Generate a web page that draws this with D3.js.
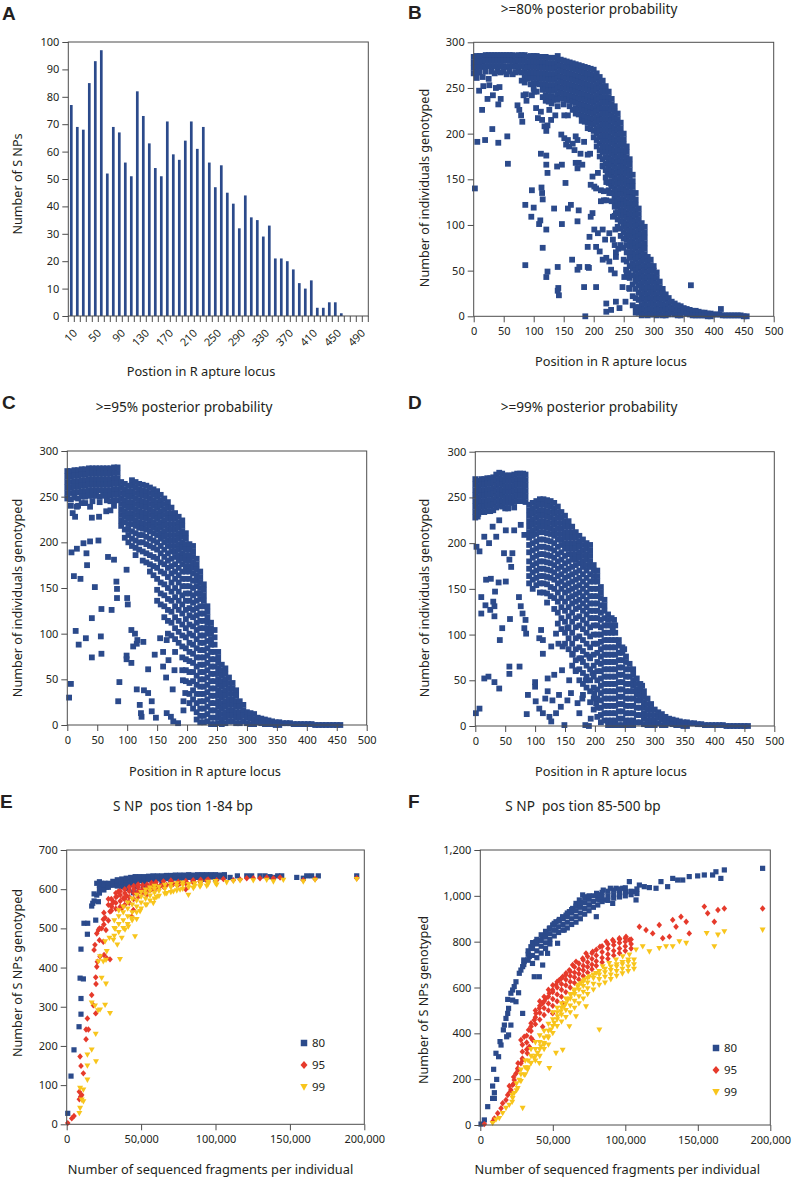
<!DOCTYPE html>
<html><head><meta charset="utf-8">
<script src="https://cdn.jsdelivr.net/npm/d3@7"></script>
<style>
body{margin:0;background:#fff;}
svg text{font-family:"Noto Sans","Open Sans",sans-serif;fill:#231f20;white-space:pre;}
</style></head><body>
<svg id="fig" width="792" height="1179"></svg>
<script>
// ---------------- DATA ----------------
// Panel A: histogram of SNP positions
const aCategories = [10,20,30,40,50,60,70,80,90,100,110,120,130,140,150,160,170,180,190,200,210,220,230,240,250,260,270,280,290,300,310,320,330,340,350,360,370,380,390,400,410,420,430,440,450,460,470,480,490,500];
const aCounts = [77,69,68,85,93,97,52,69,67,56,51,82,73,63,54,51,71,59,57,64,71,61,69,56,47,55,45,41,32,44,36,35,29,33,21,21,20,17,12,10,13,3,3,5,5,1,0,0,0,0];
const aTickLabels = [10,50,90,130,170,210,250,290,330,370,410,450,490];
const aYTicks = [0,10,20,30,40,50,60,70,80,90,100];

// Panels B-D: position (x) vs number of individuals genotyped (y); columns "x:y,y,..|"
const posTicks = [0,50,100,150,200,250,300,350,400,450,500];
const indTicks = [0,50,100,150,200,250,300];

const bColumns = "0:284,278,272,266|5:285,279,273,267,261|10:285,279,273,267|15:285,279,273,262|20:286,280,274,268|25:286,280,274,260|30:286,280,274,268|35:286,280,274,266|40:286,280,274,268|45:286,280,274,267|50:286,280,274,268|55:286,280,273,265|60:286,280,274,268|65:286,280,274,265|70:285,279,273,267|75:286,280,274,268|80:286,280,274,267,258|85:286,280,274,268,262,256|90:284,278,272,266,260|95:285,279,273,267,261,254|100:285,279,273,267,261,255,249|105:285,279,273,267,261,255,246|110:284,278,272,266,260,254|115:284,278,272,266,260,254,248,240|120:284,278,272,266,260,254,248,242,236|125:283,277,271,265,259,253,247,241,235|130:283,277,271,265,259,253,247,241,233|135:283,277,271,265,259,253,247,240|140:285,279,273,267,261,255,249,243,237|145:281,275,269,263,257,251,245,239|150:280,274,268,262,256,250,244,238,232|155:279,273,267,261,255,249,243,237|160:278,272,266,260,254,248,242,236,230|165:277,271,265,259,253,247,241,235,226|170:276,270,264,258,252,246,240,234,228,222|175:275,269,263,257,251,245,239,233,227,221|180:274,268,262,256,250,244,238,232,226,220,214|185:273,267,261,255,249,243,237,231,225,219,213|190:272,266,260,254,248,242,236,230,224,218,212,206|195:271,265,259,253,247,241,235,229,223,217,211,205|200:270,264,258,252,246,240,234,228,222,216,210,203,196|205:266,260,254,248,242,236,230,224,218,212,206,200,193,186|210:262,256,250,244,238,232,226,220,214,208,202,196,189,182,175|215:258,252,246,240,234,228,222,216,210,204,198,192,186,180,172,165|220:252,246,240,234,228,222,216,210,204,198,192,186,180,174,167,160,152|225:246,240,234,228,222,216,210,204,198,192,186,180,174,168,162,155,146,138|230:238,232,226,220,214,208,202,196,190,184,178,172,166,160,154,148,142,135,126|235:230,224,218,212,206,200,194,188,182,176,170,164,158,152,146,140,134,128,120,110|240:222,216,210,204,198,192,186,180,174,168,162,156,150,144,138,132,126,120,114,106,98|245:212,206,200,194,188,182,176,170,164,158,152,146,140,134,128,122,116,110,104,96,88,78|250:200,194,188,182,176,170,164,158,152,146,140,134,128,122,116,110,104,98,92,85,75,62|255:186,180,174,168,162,156,150,144,138,132,126,120,114,108,102,96,90,84,78,70,60,48|260:172,166,160,154,148,142,136,130,124,118,112,106,100,94,88,82,76,70,64,55,42,30|265:155,148,142,136,130,124,118,112,106,100,94,88,82,76,70,64,58,52,45,35,22,12|270:135,128,122,116,110,104,98,92,86,80,74,68,62,56,50,44,38,30,20,10,4|275:118,112,106,100,94,88,82,76,70,64,58,52,46,40,34,26,18,10,4|280:102,96,90,84,78,72,66,60,54,48,42,36,30,24,18,12,6,1|285:98,92,86,80,74,68,62,56,50,44,38,32,26,20,14,8,2|290:65,60,54,48,42,36,30,24,18,12,6,1|295:62,56,50,44,38,32,26,20,14,8,2|300:55,50,44,38,32,26,20,14,8,2|305:48,42,36,30,24,18,12,6,1|310:38,32,26,20,14,8,2|315:30,25,19,13,7,1|320:24,18,12,6,1|325:20,14,8,2|330:16,10,4|335:14,8,2|340:12,6,1|345:11,5,1|350:9,4|355:8,3|360:7,2|365:6,1|370:6,1|375:5,1|380:4,1|385:4,1|390:3,0|395:3,0|400:2|405:2|410:2|415:1|420:1|425:1|430:1|435:1|440:1|445:1|450:0|455:0";
const bScatter = [[2,140],[6,191],[19,193],[14,226],[23,238],[32,242],[31,205],[41,190],[45,238],[41,232],[56,197],[57,167],[9,247],[16,252],[26,253],[37,250],[43,251],[73,231],[76,226],[81,213],[79,220],[83,242],[87,243],[88,236],[97,242],[101,246],[104,228],[107,217],[112,224],[114,215],[118,208],[121,203],[123,209],[129,215],[136,220],[140,230],[126,226],[132,237],[151,220],[157,220],[97,138],[100,119],[86,122],[96,109],[111,105],[109,101],[112,178],[113,141],[114,135],[115,128],[121,176],[121,166],[123,157],[121,95],[115,75],[123,49],[121,43],[86,56],[139,164],[147,166],[134,118],[147,101],[153,146],[157,118],[162,122],[175,116],[173,104],[164,62],[140,54],[141,31],[142,23],[140,28],[173,51],[176,54],[190,54],[192,53],[184,32],[186,0],[204,32],[146,199],[151,195],[157,193],[159,186],[165,189],[170,197],[173,193],[168,182],[154,188],[170,168],[175,168],[173,162],[181,166],[178,178],[184,191],[194,178],[190,177],[198,153],[195,144],[201,142],[198,113],[195,109],[201,95],[193,87],[190,76],[204,76],[207,91],[215,95],[210,71],[219,84],[217,127],[212,126],[221,127],[204,140],[212,138],[217,137],[207,157],[215,164],[226,168],[223,157],[221,147],[229,145],[226,135],[235,131],[237,124],[237,113],[232,109],[226,91],[232,84],[236,95],[235,78],[237,70],[241,74],[237,65],[221,64],[226,60],[215,62],[229,51],[235,47],[251,43],[254,51],[258,47],[259,31],[248,32],[221,14],[221,5],[237,16],[229,7],[243,9],[253,16],[362,34],[412,8]];

const cColumns = "0:278,272,266,260,254,248|6:278,272,266,260,254,247,240|12:279,273,267,261,255,249|18:279,273,267,261,255,248,240|24:280,274,268,262,256,250|30:280,274,268,262,256,250,243|36:281,275,269,263,257,251|42:281,275,269,263,257,251,245|48:281,275,269,263,257,251|54:281,275,269,263,257,250,244|60:281,275,269,263,257,251|66:281,275,269,263,257,251,246|72:281,275,269,263,257,251,245|78:282,276,270,264,258,252,246,240|84:282,276,270,264,258,252,246|90:266,260,254,248,242,236,230,224,218|96:264,258,252,246,240,234,228,222,214,205|102:262,256,250,244,238,232,226,220,214,208,200|108:268,262,256,250,244,238,232,226,220,212,204,196|114:266,260,254,248,242,236,230,224,218,210,202,194,186|120:264,258,252,246,240,234,228,222,216,208,200,192|126:263,257,251,245,239,233,227,221,215,208,200,190,180|132:262,256,250,244,238,232,226,220,214,206,198,188,178|138:260,254,248,242,236,230,224,218,212,204,196,186,176,168|144:258,252,246,240,234,228,222,216,210,202,194,184,174,164|150:256,250,244,238,232,226,220,214,208,200,192,182,172,160,148,136|156:252,246,240,234,228,222,216,210,204,196,188,178,168,156,144,132|162:248,242,236,230,224,218,212,206,200,192,184,176,166,154,142,130,118|168:244,238,232,226,220,214,208,202,196,188,180,172,162,150,138,126,114,100|174:238,232,226,220,214,208,202,196,190,182,174,166,156,146,136,124,112,98|180:232,226,220,214,208,202,196,190,184,176,168,160,150,140,130,118,106,94,80|186:228,222,216,210,204,198,192,186,180,172,164,156,146,136,126,114,102,90|192:224,218,212,206,200,194,188,182,176,168,160,152,142,132,122,110,98,86,74,60|198:210,204,198,192,186,180,174,168,160,152,144,136,126,116,106,96,84,72,60,48|204:198,192,186,180,174,168,160,152,144,136,128,120,110,100,90,80,70,58,46,34,24|210:196,190,184,178,172,166,158,150,142,134,126,118,108,98,88,78,68,58,48,38,28,18|216:182,176,170,164,158,152,144,136,128,120,112,104,94,84,74,64,54,44,34,24,14,6|222:168,162,156,150,144,138,130,122,114,106,98,90,82,74,66,58,50,42,34,26,18,10,3|228:154,148,142,136,130,122,114,106,98,90,82,74,66,58,50,42,34,26,18,10,3|234:130,124,118,112,106,100,92,84,76,68,60,52,44,36,28,20,12,4|240:112,106,100,94,88,80,72,64,56,48,40,32,24,16,8,1|246:104,96,88,80,72,64,56,48,40,32,24,16,8,1|252:80,74,68,62,56,50,44,38,32,26,20,14,8,2|258:66,60,54,48,42,36,30,24,18,12,6,1|264:62,56,50,44,38,32,26,20,14,8,2|270:52,46,40,34,28,22,16,10,4|276:46,40,34,28,22,16,10,4|282:38,32,26,20,14,8,2|288:26,20,14,8,2|294:22,16,10,4|300:14,8,2|306:13,7,1|312:12,6,1|318:8,3|324:7,2|330:6,1|336:5,1|342:4,1|348:3,0|354:3,0|360:2|366:2|372:2|378:1|384:1|390:1|396:1|402:1|408:1|414:0|420:0|426:0|432:0|438:0|444:0|450:0|456:0";
const cScatter = [[3,30],[6,45],[13,228],[9,232],[7,189],[16,193],[11,163],[22,160],[19,88],[14,103],[27,199],[32,188],[33,175],[41,117],[41,74],[31,95],[46,151],[38,201],[52,202],[57,127],[56,97],[57,78],[74,126],[68,184],[78,181],[82,157],[83,149],[83,139],[87,47],[85,26],[99,170],[100,139],[101,132],[99,76],[99,72],[107,68],[107,104],[113,100],[110,86],[116,89],[117,93],[116,39],[121,22],[123,13],[124,9],[128,38],[135,35],[141,26],[141,15],[148,8],[146,77],[135,61],[127,91],[165,52],[166,13],[173,9],[177,4],[160,64],[169,71],[160,80],[166,93],[155,95],[176,39],[179,60],[185,2],[194,16],[194,26],[197,35],[193,49],[65,234],[72,235],[53,228],[41,227],[38,239],[24,243],[16,239]];

const dColumns = "0:270,264,258,252,246,240,234,228|5:268,262,256,250,244,238,232|10:270,264,258,252,246,240,234|15:270,264,258,252,246,240,234|20:271,265,259,253,247,241,235|25:271,265,259,253,247,241,235|30:272,266,260,254,248,242,236|35:275,269,263,257,251,245,239|40:277,271,265,259,253,247,241|45:276,270,264,258,252,246,240|50:274,268,262,256,250,244,238|55:274,268,262,256,250,244,238|60:274,268,262,256,250,244|65:275,269,263,257,251,245,239|70:276,270,264,258,252,246|75:276,270,264,258,252,246|80:276,270,264,258,252,246|84:275,269,263,257,251,245|90:242,236,230,224,218,212,206,198,190,180,172,164,156|96:244,238,232,226,220,214,208,200,192,184,176,168,160,150|102:246,240,234,228,222,216,210,202,194,186,178,170,162,154|108:248,242,236,230,224,218,212,204,196,188,180,172,164,156,146|114:248,242,236,230,224,218,212,204,196,188,180,172,164,156,146|120:247,241,235,229,223,217,211,203,195,187,179,171,163,155,145,135|126:246,240,234,228,222,216,210,202,194,186,178,170,162,152,142|132:244,238,232,226,220,214,208,200,192,184,176,168,160,150,140,128|138:240,234,228,222,216,210,204,196,188,180,172,164,156,146,136,124,112|144:234,228,222,216,210,204,198,190,182,174,166,158,150,140,130,118,106|150:230,224,218,212,206,200,194,186,178,170,162,154,146,136,126,114,102,90|156:224,218,212,206,200,194,188,180,172,164,156,148,140,130,120,108,96,84|162:218,212,206,200,194,188,182,174,166,158,150,142,134,124,114,102,90,78,66|168:212,206,200,194,188,182,176,168,160,152,144,136,128,118,108,96,84,72,60|174:208,202,196,190,184,178,170,162,154,146,138,130,120,110,98,86,74,62,50|180:204,198,192,186,180,174,166,158,150,142,134,126,116,106,94,82,70,58,46,34|186:200,194,188,182,176,170,162,154,146,138,130,122,112,102,90,78,66,54,42|192:198,192,186,180,174,166,158,150,142,134,126,118,108,98,86,74,62,50,38,26|198:176,170,164,158,150,142,134,126,118,110,100,90,78,66,54,42,30,18|204:170,164,158,150,142,134,126,118,110,100,90,80,70,60,50,40,30,20,10|210:152,146,140,132,124,116,108,100,92,84,76,68,60,52,44,36,28,20,12,4|216:138,132,126,118,110,102,94,86,78,70,62,54,46,38,30,22,14,6|222:122,116,110,102,94,86,78,70,62,54,46,38,30,22,14,6,1|228:118,110,102,94,86,78,70,62,54,46,38,30,22,14,6,1|234:110,102,94,86,78,70,62,54,46,38,30,22,14,6,1|240:94,88,80,72,64,56,48,40,32,24,16,8,1|246:86,80,72,64,56,48,40,32,24,16,8,1|252:76,70,62,54,46,38,30,22,14,6,1|258:68,62,54,46,38,30,22,14,6,1|264:62,56,50,44,38,30,22,14,6,1|270:52,46,40,34,28,20,12,4|276:46,40,34,28,20,12,4|282:38,32,26,20,14,8,2|288:30,24,18,12,6,1|294:24,18,12,6,1|300:18,12,6,1|306:15,9,3|312:13,7,1|318:10,5,1|324:8,3|330:7,2|336:6,1|342:5,1|348:4,0|354:4,0|360:3|366:3|372:2|378:2|384:1|390:1|396:1|402:1|408:1|414:1|420:0|426:0|432:0|438:0|444:0|450:0|456:0";
const dScatter = [[1,14],[7,19],[2,196],[4,229],[7,191],[10,123],[10,141],[17,132],[15,52],[22,54],[18,160],[26,161],[25,127],[32,131],[32,120],[30,136],[33,147],[32,48],[39,157],[40,41],[41,94],[45,107],[51,158],[57,182],[60,174],[58,117],[57,65],[57,57],[74,65],[73,141],[76,131],[79,123],[84,116],[82,107],[85,101],[88,34],[86,13],[15,207],[23,200],[35,207],[29,218],[40,225],[51,214],[48,189],[62,189],[65,214],[76,220],[82,209],[101,27],[100,43],[100,48],[107,19],[113,14],[124,10],[127,5],[117,30],[121,38],[129,28],[121,52],[132,56],[135,14],[145,61],[140,34],[143,21],[149,1],[154,28],[157,50],[160,36],[168,61],[171,25],[174,14],[179,30],[184,1],[190,0],[113,94],[107,96],[113,79],[110,105],[127,87],[135,101],[139,90],[146,87],[154,107],[163,79],[177,74],[191,76],[185,50],[196,58],[199,36],[202,25],[193,8],[249,84],[232,116],[230,107],[280,32],[279,44]];

// Panels E-F: fragments per individual (x) vs SNPs genotyped (y), series 80 / 95 / 99
const seriesNames = ["80","95","99"];
const fragTicks = [0,50000,100000,150000,200000];
const eYTicks = [0,100,200,300,400,500,600,700];
const fYTicks = [0,200,400,600,800,1000,1200];

const e80 = [[700,28],[2900,123],[4900,190],[8300,249],[9600,281],[9600,321],[9000,373],[11200,371],[9600,447],[11600,513],[14100,513],[13900,485],[16800,557],[17500,564],[18400,570],[20200,585],[18400,588],[21300,568],[19500,521],[20200,615],[22000,619],[22400,606],[23500,615],[24600,602],[26900,605],[29100,611],[25800,615],[41400,602],[47000,606],[51500,608],[44800,591],[109800,630],[114700,634],[121000,634],[124300,634],[129900,634],[133300,634],[136600,632],[138900,630],[141800,634],[144500,634],[154600,630],[159000,628],[161300,634],[164600,634],[169100,634],[194900,634]];
const e80Columns = "22000:610,600,590|25000:605,612,598|28000:605,615|31000:610,620|34000:614,624,608|37000:616,626,606|40000:618,628,610|43000:620,630,612|46000:622,632,614|49000:622,632|52000:624,632,616|55000:624,633|58000:625,634,618|61000:626,634|64000:626,634,620|67000:627,635|70000:628,635,622|73000:628,636|76000:629,636,622|79000:629,636|82000:630,637|85000:630,636,624|88000:630,637|91000:630,637,625|94000:631,637|97000:631,637|100000:631,637,626|103000:631,636|106000:632,637";
const e95 = [[700,3],[3400,15],[4900,21],[8500,64],[9400,71],[8500,83],[10100,75],[9600,149],[9000,173],[11200,130],[13000,217],[13000,242],[13900,270],[14600,242],[16800,330],[17900,304],[18400,445],[19500,375],[19700,358],[19500,283],[20200,402],[20600,415],[19000,458],[20200,487],[21300,496],[23500,500],[24600,523],[25800,527],[24600,466],[25100,432],[26900,424],[22400,428],[26400,496],[29100,543],[29100,421],[30200,555],[31400,568],[33600,581],[34700,594],[37000,551],[38100,577],[40300,583],[41400,568],[43700,530],[44800,547],[47000,589],[49300,594],[53800,585],[56000,598],[58200,602],[62700,608],[67200,611],[71700,613],[76200,615],[80600,617],[80000,600],[85100,620],[89600,620],[94100,622],[100800,623],[105300,626],[112000,623],[116500,625],[121000,628],[125400,628],[129900,628],[134400,630],[138900,628],[143400,630],[159000,623],[166900,626],[194900,628]];
const e95Columns = "22000:470,500|25000:510,540|28000:520,560,575|30000:545,560,575|33000:550,565,580,590|36000:555,570,585,595|39000:560,575,590,600|42000:565,580,595,605|45000:575,590,600,608|48000:580,595,605,612|51000:590,600,610|54000:595,605,612|57000:600,610,616|60000:603,612,618|65000:606,614,620|70000:610,617,622|75000:612,619|80000:615,621|85000:617,623|90000:619,624|95000:620,625";
const e99 = [[8500,28],[9000,41],[10100,62],[11200,58],[9000,92],[11200,88],[13900,113],[13900,149],[13900,177],[16800,190],[19700,160],[19500,230],[16800,310],[19000,302],[21100,290],[22400,292],[25800,304],[23500,373],[26400,358],[29100,283],[22400,428],[21300,415],[24600,415],[26400,419],[26900,441],[25800,466],[28700,475],[31400,470],[32500,498],[35800,421],[34000,458],[37000,475],[39200,496],[41400,504],[45900,479],[43700,526],[47000,523],[49300,543],[53800,560],[58200,564],[60500,579],[67200,589],[71700,594],[81800,585],[76200,598],[85100,602],[89600,606],[94100,608],[100800,611],[107500,617],[112000,620],[116500,622],[125400,622],[134400,623],[138900,619],[145600,623],[159000,619],[166900,623],[194900,625]];
const e99Columns = "32000:480,500,520|35000:490,510,530,545|38000:500,520,540,555|41000:510,530,550,565|44000:520,540,560,575|47000:540,555,570,585|50000:550,565,580,592|53000:560,575,588,598|56000:570,583,595,603|59000:575,590,600,608|62000:582,595,605|66000:588,600,610|70000:592,604,612|74000:596,607,614|78000:600,610,616|82000:604,612|86000:607,614|90000:609,616|95000:612,618|100000:614,620";

const f80 = [[500,4],[2800,22],[5100,80],[8500,116],[9700,116],[8500,170],[9700,141],[9200,243],[11300,199],[10800,313],[12600,298],[13600,364],[14300,349],[15900,415],[16600,436],[17700,465],[18900,487],[19500,509],[18900,548],[18200,385],[19500,393],[21100,436],[21100,575],[22300,589],[23400,604],[24600,625],[22300,545],[24600,538],[26400,577],[26900,662],[28000,676],[29200,691],[30300,713],[32600,720],[29200,487],[33800,735],[34900,778],[36100,796],[38400,800],[40700,807],[43000,822],[45300,836],[47600,858],[49900,873],[52200,887],[54500,897],[56800,909],[59100,916],[61400,931],[63700,945],[66000,967],[68300,982],[70600,1004],[72900,996],[75200,960],[80200,1011],[82500,982],[84800,1025],[87100,982],[89700,1033],[91300,967],[93600,1033],[95900,1025],[98200,1033],[100500,1018],[102800,1062],[105100,1018],[107400,982],[109700,1047],[113100,1040],[116600,1036],[121200,1033],[124600,1062],[129200,1040],[132700,1076],[136100,1069],[139600,1069],[144100,1084],[149900,1087],[154500,1091],[160200,1091],[162500,1105],[165900,1076],[168300,1113],[194700,1120],[37200,647],[40700,647],[53300,793],[57900,851],[80000,909],[52200,851],[46400,749],[43000,698]];
const f80Columns = "30000:700,720|33000:720,745,760|36000:740,770,790,705|39000:760,790,810,730|42000:780,805,830,750|45000:795,820,845,770|48000:810,835,860,790|51000:825,850,875,880|54000:840,865,890|57000:850,875,900,905|60000:860,885,910,925|63000:875,900,925,940|66000:885,910,935,955|69000:900,925,950,970|72000:920,945,970,990|75000:935,960,985,1000|78000:950,975,1000|81000:960,985,1005|84000:975,995,1015|88000:980,1000,1020|92000:990,1005,1025|96000:995,1010,1030|100000:1000,1015,1035|104000:1005,1020|108000:1010,1030";
const f95 = [[2800,4],[8500,15],[9700,29],[12000,51],[14300,73],[15400,95],[17700,109],[18900,131],[21100,153],[22300,175],[23400,196],[24600,225],[25800,247],[28000,269],[29200,284],[32400,313],[33800,342],[36100,371],[28000,371],[30300,385],[33300,415],[35000,444],[37200,458],[38400,487],[40700,509],[43000,531],[45300,553],[47600,575],[49900,589],[52200,611],[54500,633],[56800,647],[59100,662],[61400,676],[63700,698],[66000,713],[70600,727],[72900,749],[77500,756],[82500,778],[86900,800],[91300,807],[95900,815],[100500,822],[102800,807],[109700,865],[114300,851],[118900,836],[123400,873],[125800,815],[130400,822],[132700,895],[135000,865],[138400,909],[142000,887],[144100,836],[154500,953],[156800,924],[161400,887],[163900,938],[168300,945],[194700,945],[43000,429],[49900,487],[56800,531]];
const f95Columns = "20000:140,170|23000:180,210|26000:240,270|29000:290,320,350|32000:330,360,390|35000:380,410,430|38000:440,470,500|41000:460,490,520,540|44000:480,510,540,560|47000:500,530,560,590|50000:520,550,580,610|53000:540,570,600,625|56000:560,590,615,640|59000:580,610,635,655|62000:600,625,650,670|65000:620,645,665,690|68000:635,660,680,705|71000:650,675,695,720|74000:665,690,710,735|77000:680,700,725,750|80000:695,715,740,765|84000:710,730,755,780|88000:725,745,770,790|92000:740,760,785,800|96000:750,770,795,810|100000:760,780,800,815|104000:770,790,810";
const f99 = [[8500,7],[10800,22],[13100,29],[15400,51],[17700,73],[20000,87],[22300,116],[23400,138],[25800,160],[29200,73],[26900,196],[30300,218],[32600,240],[34900,269],[37200,291],[39500,313],[41800,342],[44000,356],[46400,385],[48700,415],[51000,444],[53300,473],[55600,495],[57900,516],[60200,545],[62500,567],[64800,582],[67200,604],[69400,618],[71700,633],[75200,647],[79800,662],[82100,415],[84400,691],[88900,705],[93600,720],[98200,735],[102800,742],[107400,764],[112000,778],[116600,756],[123400,771],[128100,778],[132700,778],[137300,800],[142000,793],[156100,836],[161400,778],[163900,829],[168300,844],[194700,851],[47600,247],[40700,269],[52200,313],[56800,327],[61400,429],[66000,473],[72900,516]];
const f99Columns = "22000:100,130|25000:150,180|28000:190,220,240|31000:220,250,280|33000:250,280|35000:270,300,330|38000:300,330,360,280|41000:330,360,390,300|44000:350,380,410,330|47000:380,410,440,350|50000:400,430,460,490|53000:430,460,490,510|56000:450,480,510,530|59000:470,500,530,550|62000:490,520,550,570|65000:510,540,570,590|68000:530,560,590,610|71000:550,580,605,625|74000:570,595,620,640|78000:590,615,640,655|82000:610,635,655,670|86000:620,645,665,680|90000:635,655,675,690|94000:650,670,690,700|98000:660,680,700,710|102000:670,690,710,720|106000:680,700,720";

// ---------------- DRAWING ----------------
const BLUE = "#2b4a8b", RED = "#e63a2b", YELLOW = "#f8c51c", FRAME = "#4d4d4d";
const svg = d3.select("#fig");
const parseCols = s => s.split("|").flatMap(c => { const [x, ys] = c.split(":"); return ys.split(",").map(y => [+x, +y]); });

function letter(t, x, y){ svg.append("text").attr("x",x).attr("y",y).text(t)
  .style("font-family","'Liberation Sans',Arial,sans-serif").style("font-weight","bold").style("font-size","19px"); }
function title(t, x, y){ svg.append("text").attr("x",x).attr("y",y).attr("text-anchor","middle").text(t).style("font-size","13.6px"); }
function xTitle(t, x, y){ svg.append("text").attr("x",x).attr("y",y).attr("text-anchor","middle").text(t).style("font-size","12.8px"); }
function yTitle(t, x, y){ svg.append("text").attr("transform",`translate(${x},${y}) rotate(-90)`).attr("text-anchor","middle").text(t).style("font-size","12.6px"); }
function styleAxis(g){ g.select(".domain").remove(); g.selectAll(".tick line").attr("stroke",FRAME); g.selectAll(".tick text").style("font-size","11px").attr("fill","#231f20"); }
function frame(x0,x1,yt,yb){ svg.append("rect").attr("x",x0).attr("y",yt).attr("width",x1-x0).attr("height",yb-yt).attr("fill","none").attr("stroke",FRAME).attr("stroke-width",1); }

// ----- Panel A -----
(function(){
  const x0=68.3, x1=368.3, yt=42, yb=316;
  const x = d3.scaleBand().domain(aCategories).range([x0,x1]).paddingInner(0.55).paddingOuter(0.275);
  const y = d3.scaleLinear().domain([0,100]).range([yb,yt]);
  svg.append("g").selectAll("rect").data(aCategories).join("rect")
    .attr("x",d=>x(d)).attr("width",x.bandwidth())
    .attr("y",(d,i)=>y(aCounts[i])).attr("height",(d,i)=>yb-y(aCounts[i])).attr("fill",BLUE);
  svg.append("g").attr("transform",`translate(${x0},0)`).call(d3.axisLeft(y).tickValues(aYTicks).tickSize(6).tickPadding(3)).call(styleAxis);
  const edge = d => x(d) - (x.step()-x.bandwidth())/2;
  const edges = aCategories.map(edge).concat([x1]);
  svg.append("g").selectAll("line").data(edges).join("line")
    .attr("x1",d=>d).attr("x2",d=>d).attr("y1",yb).attr("y2",yb+6).attr("stroke",FRAME);
  svg.append("g").selectAll("text").data(aTickLabels).join("text")
    .attr("transform",d=>`translate(${x(d)+x.bandwidth()/2+4},${yb+15}) rotate(-45)`)
    .attr("text-anchor","end").attr("dy","0.35em").style("font-size","11px").text(d=>d);
  frame(x0,x1,yt,yb);
  letter("A",2,20);
  xTitle("Postion in R apture locus",201,376);
  yTitle("Number of S NPs",22,184);
})();

// ----- Panels B, C, D -----
function posPanel(cols, extra, x0,x1,yt,yb, L, lx, ly, t, tx, ty, xlabY, xlabX, ylabX, ylabY){
  const x = d3.scaleLinear().domain([0,500]).range([x0,x1]);
  const y = d3.scaleLinear().domain([0,300]).range([yb,yt]);
  const pts = extra.concat(parseCols(cols));
  const s = 5.8;
  svg.append("g").selectAll("rect").data(pts).join("rect")
    .attr("x",d=>x(d[0])-s/2).attr("y",d=>y(d[1])-s/2).attr("width",s).attr("height",s).attr("fill",BLUE);
  svg.append("g").attr("transform",`translate(${x0},0)`).call(d3.axisLeft(y).tickValues(indTicks).tickSize(6).tickPadding(3)).call(styleAxis);
  svg.append("g").attr("transform",`translate(0,${yb})`).call(d3.axisBottom(x).tickValues(posTicks).tickSize(6).tickPadding(5)).call(styleAxis);
  frame(x0,x1,yt,yb);
  letter(L,lx,ly);
  title(t,tx,ty);
  xTitle("Position in R apture locus",xlabX,xlabY);
  yTitle("Number of individuals genotyped",ylabX,ylabY);
}
posPanel(bColumns,bScatter,473.7,773.7,42.3,316.3,"B",408,19,">=80% posterior probability",589,14,366,611,429,188);
posPanel(cColumns,cScatter,67.3,366.7,451,725,"C",2,409,">=95% posterior probability",184,412,776,205,22,598);
posPanel(dColumns,dScatter,475.3,774.3,451.7,726,"D",408,409,">=99% posterior probability",589,412,776,611,429,598);

// ----- Panels E, F -----
const squarePath = "M-2.6,-2.6L2.6,-2.6L2.6,2.6L-2.6,2.6Z";
const diamondPath = "M0,-3.2L2.8,0L0,3.2L-2.8,0Z";
const trianglePath = "M-3,-2.4L3,-2.4L0,2.9Z";
function fragPanel(series, yMax, yTicks, x0,x1,yt,yb, L, lx, t, tx, ylabX, ylabY, legX, legY){
  const x = d3.scaleLinear().domain([0,200000]).range([x0,x1]);
  const y = d3.scaleLinear().domain([0,yMax]).range([yb,yt]);
  const looks = [[squarePath,BLUE],[diamondPath,RED],[trianglePath,YELLOW]];
  series.forEach((pts,i)=>{
    svg.append("g").selectAll("path").data(pts).join("path")
      .attr("d",looks[i][0]).attr("fill",looks[i][1])
      .attr("transform",d=>`translate(${x(d[0])},${y(d[1])})`);
  });
  svg.append("g").attr("transform",`translate(${x0},0)`).call(d3.axisLeft(y).tickValues(yTicks).tickSize(6).tickPadding(3).tickFormat(d3.format(","))).call(styleAxis);
  svg.append("g").attr("transform",`translate(0,${yb})`).call(d3.axisBottom(x).tickValues(fragTicks).tickSize(6).tickPadding(5).tickFormat(d3.format(","))).call(styleAxis);
  frame(x0,x1,yt,yb);
  seriesNames.forEach((n,i)=>{
    const ly = legY + i*22;
    svg.append("path").attr("d",looks[i][0]).attr("fill",looks[i][1]).attr("transform",`translate(${legX},${ly}) scale(1.25)`);
    svg.append("text").attr("x",legX+8).attr("y",ly).attr("dy","0.35em").style("font-size","11.5px").text(n);
  });
  letter(L,lx,808);
  title(t,tx,811);
  xTitle("Number of sequenced fragments per individual",(x0+x1)/2+(L==="E"?-5:-8),1174);
  yTitle("Number of S NPs genotyped",ylabX,ylabY);
}
fragPanel([e80.concat(parseCols(e80Columns)), e95.concat(parseCols(e95Columns)), e99.concat(parseCols(e99Columns))],
  700, eYTicks, 66.7,364.3,850,1124.3,"E",0,"S NP  pos tion 1-84 bp",183,22,973,304,1043);
fragPanel([f80.concat(parseCols(f80Columns)), f95.concat(parseCols(f95Columns)), f99.concat(parseCols(f99Columns))],
  1200, fYTicks, 480.3,770.3,850,1125,"F",408,"S NP  pos tion 85-500 bp",583,428,1000,716,1048);
</script>
</body></html>
